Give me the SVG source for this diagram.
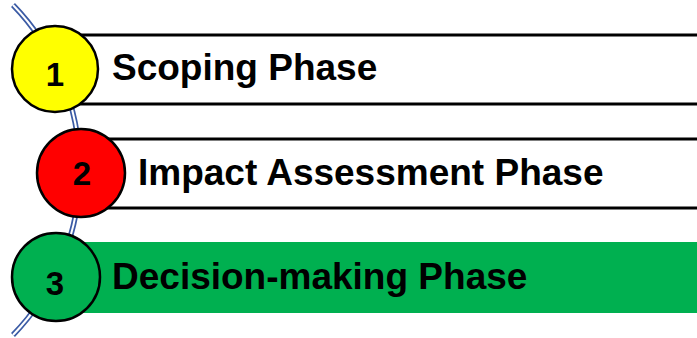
<svg xmlns="http://www.w3.org/2000/svg" width="697" height="338" viewBox="0 0 697 338">
<style>
.lbl{font-family:"Liberation Sans",Arial,sans-serif;font-weight:bold;font-size:37px;fill:#000}
.num{font-family:"Liberation Sans",Arial,sans-serif;font-weight:bold;font-size:33px;fill:#000;text-anchor:middle}
.box{fill:#fff;stroke:#000;stroke-width:3}
.dot{stroke:#000;stroke-width:2.5}
</style>
<rect width="697" height="338" fill="#fff"/>
<g id="connectors">
<path d="M13,5 A237,237 0 0 1 13,335" fill="none" stroke="#3B5BA5" stroke-width="5.5"/>
<path d="M13,5 A237,237 0 0 1 13,335" fill="none" stroke="#fff" stroke-width="2"/>
</g>
<g id="node1">
<rect class="box" x="80" y="35" width="640" height="69"/>
<circle class="dot" cx="55" cy="69" r="43" fill="#FFFF00"/>
<text class="num" x="55" y="86">1</text>
<text class="lbl" x="112" y="80">Scoping Phase</text>
</g>
<g id="node2">
<rect class="box" x="107" y="139" width="620" height="69"/>
<circle class="dot" cx="81" cy="173" r="44" fill="#FF0000"/>
<text class="num" x="82" y="185">2</text>
<text class="lbl" x="138" y="185">Impact Assessment Phase</text>
</g>
<g id="node3">
<rect x="83" y="242" width="640" height="71" fill="#00B050"/>
<circle class="dot" cx="56" cy="277" r="44" fill="#00B050"/>
<text class="num" x="55" y="295">3</text>
<text class="lbl" x="112" y="289">Decision-making Phase</text>
</g>
</svg>
